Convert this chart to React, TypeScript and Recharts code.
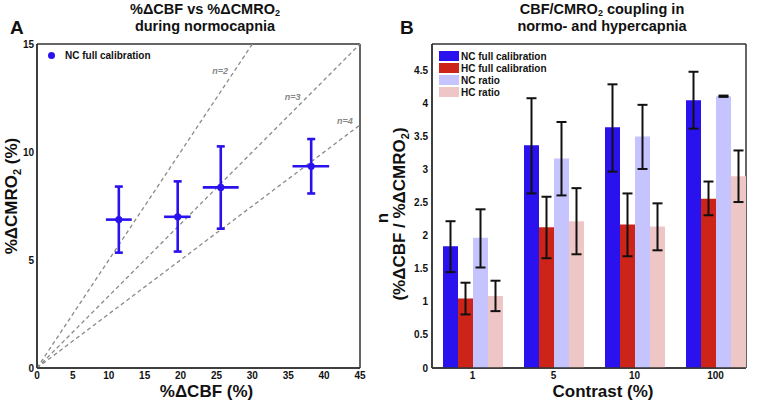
import React from 'react';
import {
  ScatterChart,
  Scatter,
  BarChart,
  Bar,
  ErrorBar,
  XAxis,
  YAxis,
  CartesianGrid,
  ReferenceLine,
  ReferenceDot,
  Legend,
} from 'recharts';

// Panel A: %dCBF vs %dCMRO2 during normocapnia
const cbfMean = [11.4, 19.6, 25.6, 38.2];
const cbfLow = [9.6, 17.7, 23.1, 35.6];
const cbfHigh = [13.2, 21.4, 28.1, 40.7];
const cmroMean = [6.87, 7.0, 8.36, 9.34];
const cmroLow = [5.34, 5.39, 6.45, 8.08];
const cmroHigh = [8.4, 8.64, 10.26, 10.6];
const cbfTicks = [0, 5, 10, 15, 20, 25, 30, 35, 40, 45];
const cmroTicks = [0, 5, 10, 15];

// iso-coupling lines n = %dCBF / %dCMRO2
const couplingN = [2, 3, 4];
const couplingEndX = [30, 45, 45];
const couplingEndY = [15, 15, 11.25];

// Panel B: coupling ratio n per contrast
const contrasts = ['1', '5', '10', '100'];
const ncFull = [1.84, 3.37, 3.64, 4.05];
const ncFullLow = [1.45, 2.64, 2.97, 3.62];
const ncFullHigh = [2.22, 4.08, 4.29, 4.48];
const hcFull = [1.05, 2.13, 2.17, 2.56];
const hcFullLow = [0.81, 1.66, 1.69, 2.31];
const hcFullHigh = [1.29, 2.59, 2.64, 2.82];
const ncRatio = [1.97, 3.17, 3.5, 4.11];
const ncRatioLow = [1.52, 2.61, 3.01, 4.1];
const ncRatioHigh = [2.4, 3.72, 3.98, 4.12];
const hcRatio = [1.09, 2.22, 2.14, 2.9];
const hcRatioLow = [0.86, 1.72, 1.78, 2.51];
const hcRatioHigh = [1.32, 2.72, 2.49, 3.29];
const nTicks = [0, 0.5, 1, 1.5, 2, 2.5, 3, 3.5, 4, 4.5];

const BLUE = '#2a12ee';
const RED = '#cc2418';
const LIGHT_BLUE = '#c6c4ff';
const PINK = '#efc6c6';
const FONT = '"Liberation Sans", Arial, sans-serif';
const axisLine = { stroke: '#333', strokeWidth: 1.5 };
const tickStyle = { fontSize: 10, fontWeight: 700, fill: '#111', fontFamily: FONT };

const scatterData = cbfMean.map((x, i) => ({
  x,
  y: cmroMean[i],
  ex: [x - cbfLow[i], cbfHigh[i] - x],
  ey: [cmroMean[i] - cmroLow[i], cmroHigh[i] - cmroMean[i]],
}));

const barData = contrasts.map((c, i) => ({
  c,
  ncFull: ncFull[i],
  ncFullErr: [ncFull[i] - ncFullLow[i], ncFullHigh[i] - ncFull[i]],
  hcFull: hcFull[i],
  hcFullErr: [hcFull[i] - hcFullLow[i], hcFullHigh[i] - hcFull[i]],
  ncRatio: ncRatio[i],
  ncRatioErr: [ncRatio[i] - ncRatioLow[i], ncRatioHigh[i] - ncRatio[i]],
  hcRatio: hcRatio[i],
  hcRatioErr: [hcRatio[i] - hcRatioLow[i], hcRatioHigh[i] - hcRatio[i]],
}));

const labelText = { fontSize: 17, fontWeight: 700, fill: '#111', fontFamily: FONT };

// box frame round the plot area
const frameH = ({ offset }: any) => [offset.top, offset.top + offset.height];
const frameV = ({ offset }: any) => [offset.left, offset.left + offset.width];

function Title({ left, lines }: { left: number; lines: React.ReactNode[] }) {
  return (
    <div
      style={{
        position: 'absolute',
        left: left - 150,
        top: 2,
        width: 300,
        textAlign: 'center',
        fontFamily: FONT,
        fontWeight: 700,
        fontSize: 14.5,
        lineHeight: '15px',
        color: '#111',
      }}
    >
      {lines.map((l, i) => (
        <div key={i}>{l}</div>
      ))}
    </div>
  );
}

const sub2 = <span style={{ fontSize: 9, position: 'relative', top: 2 }}>2</span>;

function PanelA() {
  return (
    <ScatterChart width={380} height={402} margin={{ top: 44, right: 20, bottom: 0, left: 0 }}>
      <XAxis
        type="number"
        dataKey="x"
        domain={[0, 45]}
        ticks={cbfTicks}
        height={34}
        axisLine={axisLine}
        tickLine={false}
        tickSize={3}
        tickMargin={1}
        tick={tickStyle}
        interval={0}
        label={{
          content: (p: any) => (
            <text x={p.viewBox.x + p.viewBox.width / 2 + 8} y={p.viewBox.y + 29} textAnchor="middle" {...labelText}>
              %ΔCBF (%)
            </text>
          ),
        }}
      />
      <YAxis
        type="number"
        dataKey="y"
        domain={[0, 15]}
        ticks={cmroTicks}
        width={37}
        axisLine={axisLine}
        tickLine={false}
        tickSize={0}
        tickMargin={3}
        tick={tickStyle}
        interval={0}
        label={{
          content: (p: any) => {
            const cx = 17;
            const cy = p.viewBox.y + p.viewBox.height / 2 - 10;
            return (
              <text x={cx} y={cy} textAnchor="middle" transform={`rotate(-90 ${cx} ${cy})`} {...labelText}>
                %ΔCMRO
                <tspan fontSize={11} dy={4}>2</tspan>
                <tspan dy={-4}> (%)</tspan>
              </text>
            );
          },
        }}
      />
      {couplingN.map((n, i) => (
        <ReferenceLine
          key={n}
          segment={[
            { x: 0, y: 0 },
            { x: couplingEndX[i], y: couplingEndY[i] },
          ]}
          stroke="#8a8a8a"
          strokeWidth={1.3}
          strokeDasharray="4 3"
        />
      ))}
      {couplingN.map((n, i) => (
        <ReferenceDot
          key={`lbl${n}`}
          x={[25.5, 35.6, 42.9][i]}
          y={[13.6, 12.4, 11.3][i]}
          r={0}
          shape={(p: any) => (
            <text x={p.cx} y={p.cy} textAnchor="middle" fontSize={9} fontStyle="italic" fontWeight={700} fill="#888" fontFamily={FONT}>
              {`n=${n}`}
            </text>
          )}
        />
      ))}
      <Scatter
        name="NC full calibration"
        data={scatterData}
        fill={BLUE}
        isAnimationActive={false}
        shape={(p: any) => <circle cx={p.cx} cy={p.cy} r={3.6} fill={BLUE} />}
      >
        <ErrorBar dataKey="ex" direction="x" width={0} stroke={BLUE} strokeWidth={2.6} isAnimationActive={false} />
        <ErrorBar dataKey="ey" direction="y" width={4} stroke={BLUE} strokeWidth={2.6} isAnimationActive={false} />
      </Scatter>
      <CartesianGrid
        stroke="#333"
        strokeWidth={1.5}
        horizontalCoordinatesGenerator={frameH}
        verticalCoordinatesGenerator={frameV}
      />
      <Legend
        layout="horizontal"
        verticalAlign="middle"
        align="center"
        wrapperStyle={{ top: 49, left: 48, width: 200, height: 14 }}
        content={(p: any) => (
          <div style={{ fontFamily: FONT, fontWeight: 700, fontSize: 10, color: '#111' }}>
            {(p.payload || []).map((e: any) => (
              <div key={e.value} style={{ display: 'flex', alignItems: 'center', height: 13 }}>
                <span style={{ width: 7, height: 7, borderRadius: 4, background: BLUE, marginRight: 10 }} />
                {e.value}
              </div>
            ))}
          </div>
        )}
      />
    </ScatterChart>
  );
}

const barSeries = [
  { key: 'ncFull', name: 'NC full calibration', color: BLUE },
  { key: 'hcFull', name: 'HC full calibration', color: RED },
  { key: 'ncRatio', name: 'NC ratio', color: LIGHT_BLUE },
  { key: 'hcRatio', name: 'HC ratio', color: PINK },
];
const seriesOrder = barSeries.map((s) => s.name);

function PanelB() {
  return (
    <BarChart width={398} height={402} data={barData} margin={{ top: 44, right: 12, bottom: 0, left: 0 }} barGap={0} barSize={15}>
      <XAxis
        dataKey="c"
        height={34}
        padding={{ left: 0, right: -10 }}
        axisLine={axisLine}
        tickLine={false}
        tickSize={3}
        tickMargin={1}
        tick={tickStyle}
        interval={0}
        label={{
          content: (p: any) => (
            <text x={p.viewBox.x + p.viewBox.width / 2 + 14} y={p.viewBox.y + 29} textAnchor="middle" {...labelText}>
              Contrast (%)
            </text>
          ),
        }}
      />
      <YAxis
        type="number"
        domain={[0, 4.9]}
        ticks={nTicks}
        width={72}
        axisLine={axisLine}
        tickLine={false}
        tickSize={0}
        tickMargin={4}
        tick={tickStyle}
        interval={0}
        label={{
          content: (p: any) => {
            const cy = p.viewBox.y + p.viewBox.height / 2 + 8;
            return (
              <g>
                <text x={28} y={cy + 4} textAnchor="middle" transform={`rotate(-90 28 ${cy + 4})`} {...labelText}>
                  n
                </text>
                <text x={45} y={cy} textAnchor="middle" transform={`rotate(-90 45 ${cy})`} {...labelText}>
                  (%ΔCBF / %ΔCMRO
                  <tspan fontSize={11} dy={4}>2</tspan>
                  <tspan dy={-4}>)</tspan>
                </text>
              </g>
            );
          },
        }}
      />
      {barSeries.map((s) => (
        <Bar key={s.key} dataKey={s.key} name={s.name} fill={s.color} isAnimationActive={false}>
          <ErrorBar dataKey={`${s.key}Err`} width={5} stroke="#111" strokeWidth={2} isAnimationActive={false} />
        </Bar>
      ))}
      <CartesianGrid
        stroke="#333"
        strokeWidth={1.5}
        horizontalCoordinatesGenerator={frameH}
        verticalCoordinatesGenerator={frameV}
      />
      <Legend
        layout="horizontal"
        verticalAlign="middle"
        align="center"
        wrapperStyle={{ top: 50, left: 79, width: 120, height: 50 }}
        content={(p: any) => {
          const items = [...(p.payload || [])].sort(
            (a: any, b: any) => seriesOrder.indexOf(a.value) - seriesOrder.indexOf(b.value),
          );
          return (
            <div style={{ fontFamily: FONT, fontWeight: 700, fontSize: 10, color: '#111' }}>
              {items.map((e: any) => (
                <div key={e.value} style={{ display: 'flex', alignItems: 'center', height: 12 }}>
                  <span style={{ width: 20, height: 10, background: e.color, marginRight: 2 }} />
                  {e.value}
                </div>
              ))}
            </div>
          );
        }}
      />
    </BarChart>
  );
}

export default function App() {
  return (
    <div style={{ position: 'absolute', left: 0, top: 0, width: 758, height: 402, background: '#fff', fontFamily: FONT }}>
      <div style={{ position: 'absolute', left: 0, top: 0 }}>
        <PanelA />
      </div>
      <div style={{ position: 'absolute', left: 360, top: 0 }}>
        <PanelB />
      </div>
      <Title left={205} lines={[<>%ΔCBF vs %ΔCMRO{sub2}</>, 'during normocapnia']} />
      <Title left={602} lines={[<>CBF/CMRO{sub2} coupling in</>, 'normo- and hypercapnia']} />
      <div style={{ position: 'absolute', left: 10, top: 17, fontFamily: FONT, fontWeight: 700, fontSize: 19, color: '#111' }}>A</div>
      <div style={{ position: 'absolute', left: 400, top: 17, fontFamily: FONT, fontWeight: 700, fontSize: 19, color: '#111' }}>B</div>
    </div>
  );
}
